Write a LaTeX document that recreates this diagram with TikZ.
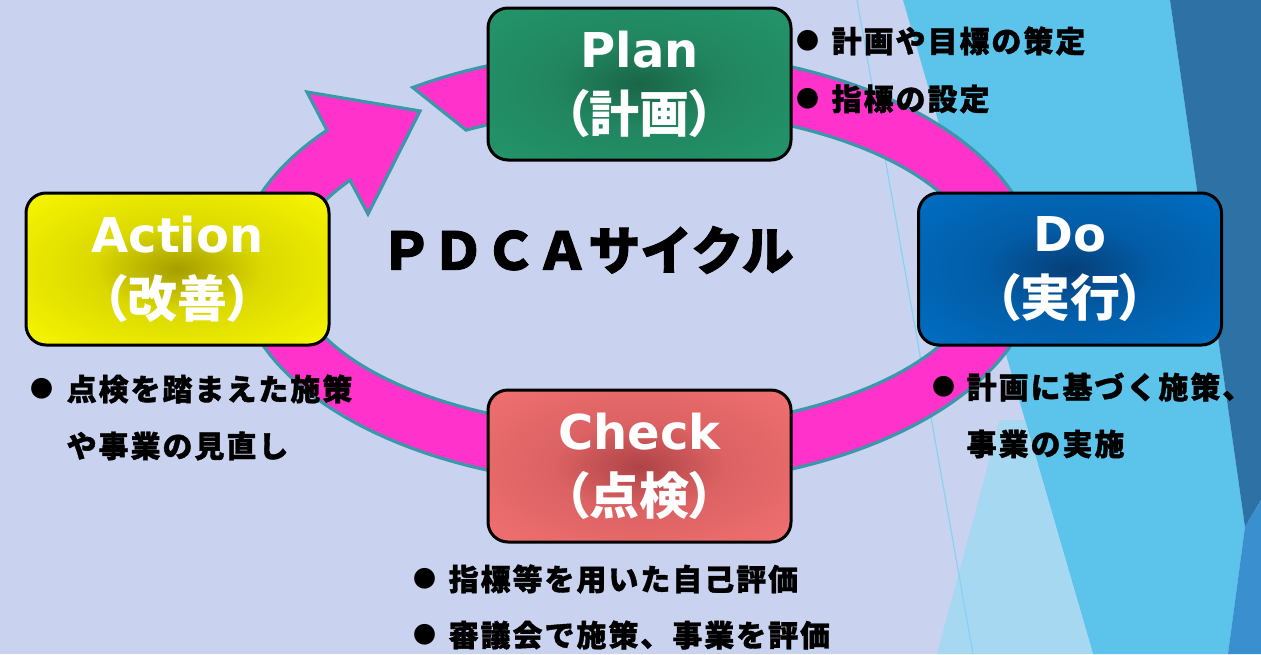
\documentclass[tikz,border=0pt]{standalone}
\usepackage{fontspec}
\newfontfamily\latf{DejaVu Sans}
\newfontfamily\jpf{Noto Sans CJK JP}
\newfontfamily\jpt{Noto Sans CJK JP}[FakeBold=1.6]
\newfontfamily\jpp{Noto Sans CJK JP}[RawFeature=+palt]
\newfontfamily\jps{Noto Sans CJK JP}[LetterSpace=6.5, FakeBold=1.2]
\definecolor{bglav}{HTML}{C9D3EF}
\definecolor{bglight}{HTML}{5CC3EA}
\definecolor{bgpale}{HTML}{A6D8F1}
\definecolor{bgdark}{HTML}{2E72A5}
\definecolor{bgmed}{HTML}{3A8FCE}
\definecolor{bgline}{HTML}{86D3F1}
\definecolor{ringpink}{HTML}{FF33CC}
\definecolor{ringteal}{HTML}{3B98A8}
\definecolor{plandark}{HTML}{1A6548}
\definecolor{planlight}{HTML}{24976D}
\definecolor{dodark}{HTML}{063F78}
\definecolor{dolight}{HTML}{0070C6}
\definecolor{actdark}{HTML}{A69E00}
\definecolor{actlight}{HTML}{F8F800}
\definecolor{chkdark}{HTML}{AE4346}
\definecolor{chklight}{HTML}{F47272}
\pgfdeclareradialshading{shplan}{\pgfpoint{0bp}{0bp}}{color(0bp)=(plandark); color(14bp)=(planlight!65!plandark); color(38bp)=(planlight); color(50bp)=(planlight)}
\pgfdeclareradialshading{shdo}{\pgfpoint{0bp}{0bp}}{color(0bp)=(dodark); color(14bp)=(dolight!60!dodark); color(38bp)=(dolight); color(50bp)=(dolight)}
\pgfdeclareradialshading{shact}{\pgfpoint{0bp}{0bp}}{color(0bp)=(actdark); color(14bp)=(actlight!65!actdark); color(36bp)=(actlight); color(50bp)=(actlight)}
\pgfdeclareradialshading{shchk}{\pgfpoint{0bp}{0bp}}{color(0bp)=(chkdark); color(14bp)=(chklight!65!chkdark); color(38bp)=(chklight); color(50bp)=(chklight)}
\tikzset{
  box/.style={draw=black, line width=3pt, rounded corners=20pt,
    minimum width=303pt, minimum height=152pt, inner sep=0pt,
    align=center, text=white, font=\latf\bfseries\fontsize{48}{65}\selectfont},
  ring/.style={fill=ringpink, draw=ringteal, line width=3.2pt},
  bul/.style={anchor=center, inner sep=0pt, text=black,
    font=\jpf\bfseries\fontsize{23}{24}\selectfont},
  itm/.style={anchor=west, inner sep=0pt, text=black,
    font=\jps\bfseries\fontsize{30}{30}\selectfont},
  ttl/.style={anchor=center, inner sep=0pt, text=black,
    font=\jpt\bfseries\fontsize{52}{52}\selectfont}
}
\newcommand{\jpbox}[1]{{\jpp\bfseries\fontsize{50}{65}\selectfont #1}}
\begin{document}
\begin{tikzpicture}[x=1pt,y=-1pt]
\useasboundingbox (0,0) rectangle (1261,654);
% background
\fill[bglav] (0,0) rectangle (1261,654);
\fill[bglight] (903,0) -- (1170,0) -- (1245,527) -- (1228,654) -- (1093,654) -- cycle;
\fill[bgpale] (1000,420) -- (1025,420) -- (1093,654) -- (937,654) -- cycle;
\fill[bgdark] (1170,0) -- (1261,0) -- (1261,500) -- (1245,527) -- cycle;
\fill[bgmed] (1245,527) -- (1261,500) -- (1261,654) -- (1228,654) -- cycle;
\draw[bgline, line width=1.2pt] (857,0) -- (973,654);
% cycle ring with arrow head
\coordinate (hb1) at (307,92);
\coordinate (htip) at (420,111);
\coordinate (hb2) at (368,214);
\filldraw[ring] plot[domain=235.9:579.2, samples=160] ({637+400*cos(\x)},{268+218*sin(\x)})
  -- (hb1) -- (htip) -- (hb2)
  -- plot[domain=573.7:240.3, samples=160] ({637+345*cos(\x)},{269+160*sin(\x)}) -- cycle;
% boxes
\node[box, shading=shplan] (plan) at (639.5,84) {Plan\\\jpbox{（計画）}};
\node[box, shading=shdo] (do) at (1070,269) {Do\\\jpbox{（実行）}};
\node[box, shading=shchk] (check) at (639.5,466) {Check\\\jpbox{（点検）}};
\node[box, shading=shact] (action) at (177.5,269) {Action\\\jpbox{（改善）}};
% title
\node[ttl] (title) at (587,250) {ＰＤＣＡサイクル};
% Plan items
\node[bul] (pb1) at (808,41) {●};
\node[itm] (pt1) at (831.5,41) {計画や目標の策定};
\node[bul] (pb2) at (808,99) {●};
\node[itm] (pt2) at (831.5,99) {指標の設定};
% Do items
\node[bul] (db1) at (944,387) {●};
\node[itm] (dt1) at (966.5,387) {計画に基づく施策、};
\node[itm] (dt2) at (966.5,444) {事業の実施};
% Action items
\node[bul] (ab1) at (42,389) {●};
\node[itm] (at1) at (66.5,389) {点検を踏まえた施策};
\node[itm] (at2) at (66.5,446) {や事業の見直し};
% Check items
\node[bul] (cb1) at (425,579) {●};
\node[itm] (ct1) at (448.5,579) {指標等を用いた自己評価};
\node[bul] (cb2) at (425,635) {●};
\node[itm] (ct2) at (448.5,635) {審議会で施策、事業を評価};
\end{tikzpicture}
\end{document}
